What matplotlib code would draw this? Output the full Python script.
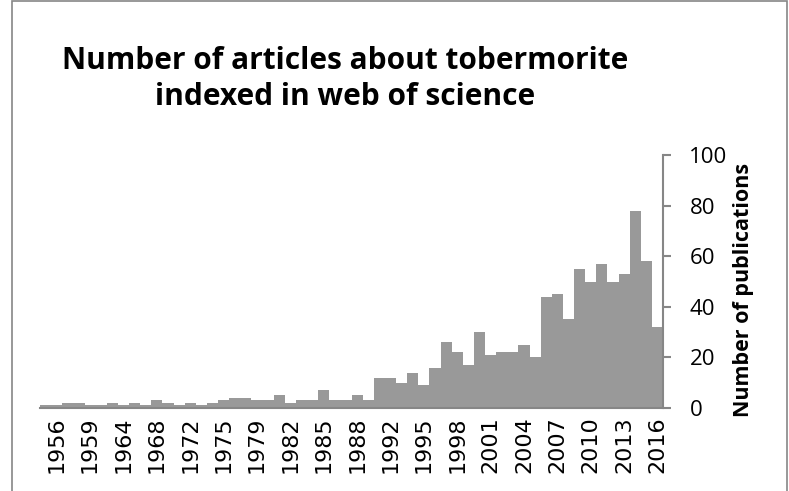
import matplotlib.pyplot as plt
from matplotlib.patches import Rectangle

# categories (years with at least one record) and counts
years = [1955, 1956, 1957, 1958, 1959, 1961, 1962, 1964, 1965, 1966,
         1968, 1969, 1970, 1972, 1973, 1974, 1975, 1976, 1977, 1979,
         1980, 1981, 1982, 1983, 1984, 1985, 1986, 1987, 1988, 1989,
         1990, 1992, 1993, 1994, 1995, 1996, 1997, 1998, 1999, 2000,
         2001, 2002, 2003, 2004, 2005, 2006, 2007, 2008, 2009, 2010,
         2011, 2012, 2013, 2014, 2015, 2016]
counts = [1, 1, 2, 2, 1, 1, 2, 1, 2, 1,
          3, 2, 1, 2, 1, 2, 3, 4, 4, 3,
          3, 5, 2, 3, 3, 7, 3, 3, 5, 3,
          12, 12, 10, 14, 9, 16, 26, 22, 17, 30,
          21, 22, 22, 25, 20, 44, 45, 35, 55, 50,
          57, 50, 53, 78, 58, 32]

yticks = [0, 20, 40, 60, 80, 100]

fig = plt.figure(figsize=(7.89, 4.91), dpi=100)
ax = fig.add_axes([40 / 789, 1 - 408 / 491, 623 / 789, 253 / 491])

x = list(range(len(years)))
ax.bar(x, counts, width=1.0, color='#999999', edgecolor='none')

ax.set_xlim(-0.5, len(years) - 0.5)
ax.set_ylim(0, 100)

# x labels every third category, starting at 1956
tick_idx = list(range(1, len(years), 3))
ax.set_xticks(tick_idx)
ax.set_xticklabels([str(years[i]) for i in tick_idx], rotation=90,
                   fontsize=16, family='DejaVu Sans')
ax.tick_params(axis='x', length=0, pad=6)

ax.yaxis.tick_right()
ax.set_yticks(yticks)
ax.set_yticklabels([str(v) for v in yticks], fontsize=16, family='Open Sans')
ax.tick_params(axis='y', direction='out', length=6, width=1.5,
               color='#868686', pad=13)

ax.spines['left'].set_visible(False)
ax.spines['top'].set_visible(False)
ax.spines['right'].set_color('#868686')
ax.spines['right'].set_linewidth(1.5)
ax.spines['bottom'].set_color('#868686')
ax.spines['bottom'].set_linewidth(1.5)

ax.yaxis.set_label_position('right')
ax.set_ylabel('Number of publications', fontsize=15.5, fontweight='bold',
              family='Open Sans')
ax.yaxis.set_label_coords(1.112, 0.465)

fig.text(345 / 789, 1 - 79 / 491,
         'Number of articles about tobermorite\nindexed in web of science',
         ha='center', va='center', fontsize=21.5, fontweight='bold',
         family='Open Sans', linespacing=1.3)

# chart frame
fig.patches.append(Rectangle((12 / 789, -0.1), 775 / 789, 1.1 - 1 / 491,
                             transform=fig.transFigure, fill=False,
                             edgecolor='#868686', linewidth=1.2))

fig.savefig('out.png', dpi=100)
